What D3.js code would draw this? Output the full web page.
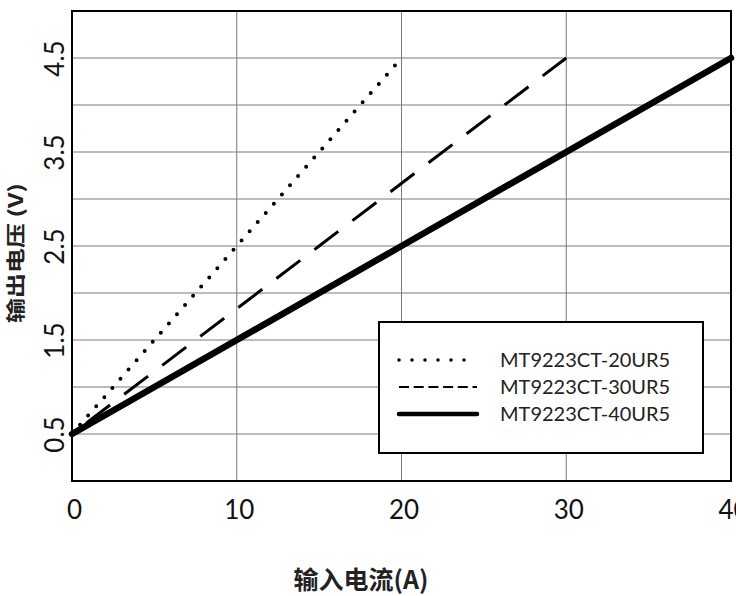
<!DOCTYPE html>
<html><head><meta charset="utf-8">
<script src="https://cdn.jsdelivr.net/npm/d3@7"></script>
<style>body{margin:0;background:#fff}svg{display:block}</style>
</head><body>
<svg id="c" width="736" height="596"></svg>
<script>
// ---- data ----
const seriesNames = ["MT9223CT-20UR5", "MT9223CT-30UR5", "MT9223CT-40UR5"];
const current20 = [0, 10, 20];
const voltage20 = [0.5, 2.5, 4.5];
const current30 = [0, 15, 30];
const voltage30 = [0.5, 2.5, 4.5];
const current40 = [0, 20, 40];
const voltage40 = [0.5, 2.5, 4.5];
const xTicks = [0, 10, 20, 30, 40];
const yTickLabels = [0.5, 1.5, 2.5, 3.5, 4.5];
const yGridValues = [0.5, 1, 1.5, 2, 2.5, 3, 3.5, 4, 4.5];
const xTitle = "输入电流(A)";
const yTitle = "输出电压 (V)";

// ---- layout ----
const L = 72, R = 731, T = 11, B = 481;
const svg = d3.select("#c");
const x = d3.scaleLinear().domain([0, 40]).range([L, R]);
const y = d3.scaleLinear().domain([0, 5]).range([B, T]);

// grid
const g = svg.append("g");
g.selectAll(".vg").data(xTicks.slice(1, -1)).join("line")
  .attr("x1", d => x(d)).attr("x2", d => x(d)).attr("y1", T).attr("y2", B)
  .attr("stroke", "#7a7a7a").attr("stroke-width", 1);
g.selectAll(".hg").data(yGridValues).join("line")
  .attr("x1", L).attr("x2", R).attr("y1", d => y(d)).attr("y2", d => y(d))
  .attr("stroke", "#7a7a7a").attr("stroke-width", 1);

// axes labels via d3 axes
const xAxis = d3.axisBottom(x).tickValues(xTicks).tickSize(0).tickPadding(0).tickFormat(d3.format("d"));
const xa = svg.append("g").attr("transform", `translate(0,${B})`).call(xAxis);
xa.select(".domain").remove();
xa.selectAll("text").attr("y", 38).attr("dy", 0).attr("dx", 2)
  .attr("font-family", "Lato, 'Open Sans', sans-serif").attr("font-size", 26).attr("fill", "#111");

const yAxis = d3.axisLeft(y).tickValues(yTickLabels).tickSize(0).tickFormat(d3.format(".1f"));
const ya = svg.append("g").attr("transform", `translate(${L},0)`).call(yAxis);
ya.select(".domain").remove();
ya.selectAll("text")
  .attr("x", null).attr("dy", null)
  .attr("transform", "translate(-8,0) rotate(-90)")
  .attr("text-anchor", "middle")
  .attr("font-family", "Lato, 'Open Sans', sans-serif").attr("font-size", 26).attr("fill", "#111");

// series
const line = d3.line().x(d => x(d[0])).y(d => y(d[1]));
const zip = (a, b) => a.map((v, i) => [v, b[i]]);
const styles = [
  {w: 4, dash: "0,12.25", off: 0, cap: "round"},
  {w: 3, dash: "30,17.8", off: 30, cap: "butt"},
  {w: 6.5, dash: null, off: 0, cap: "round"}
];
const data = [zip(current20, voltage20), zip(current30, voltage30), zip(current40, voltage40)];
svg.selectAll(".series").data(data).join("path")
  .attr("d", line).attr("fill", "none").attr("stroke", "#000")
  .attr("stroke-width", (d, i) => styles[i].w)
  .attr("stroke-dasharray", (d, i) => styles[i].dash)
  .attr("stroke-dashoffset", (d, i) => styles[i].off)
  .attr("stroke-linecap", (d, i) => styles[i].cap);

// frame
svg.append("rect").attr("x", L).attr("y", T).attr("width", R - L).attr("height", B - T)
  .attr("fill", "none").attr("stroke", "#000").attr("stroke-width", 2);

// legend
const lg = svg.append("g");
lg.append("rect").attr("x", 379).attr("y", 322).attr("width", 324).attr("height", 131)
  .attr("fill", "#fff").attr("stroke", "#000").attr("stroke-width", 2);
const legStyles = [
  {w: 3.5, dash: "0,13", cap: "round"},
  {w: 2, dash: "10,4.7", cap: "butt"},
  {w: 4.5, dash: null, cap: "round"}
];
seriesNames.forEach((name, i) => {
  const yy = 360 + i * 27;
  lg.append("line").attr("x1", 399).attr("x2", 477).attr("y1", yy).attr("y2", yy)
    .attr("stroke", "#000").attr("stroke-width", legStyles[i].w)
    .attr("stroke-dasharray", legStyles[i].dash).attr("stroke-linecap", legStyles[i].cap);
  lg.append("text").attr("x", 500).attr("y", yy + 7).text(name)
    .attr("font-family", "Lato, 'Open Sans', sans-serif").attr("font-size", 20).attr("fill", "#222");
});

// titles
svg.append("text").attr("x", 361).attr("y", 589).attr("text-anchor", "middle")
  .attr("font-family", "'Noto Sans CJK SC', sans-serif").attr("font-weight", "bold")
  .attr("font-size", 25).attr("fill", "#222").text(xTitle);
svg.append("text").attr("transform", "translate(23,253) scale(0.78,1) rotate(-90)").attr("text-anchor", "middle")
  .attr("font-family", "'Noto Sans CJK SC', sans-serif").attr("font-weight", "bold")
  .attr("font-size", 25).attr("fill", "#222").text(yTitle);
</script>
</body></html>
